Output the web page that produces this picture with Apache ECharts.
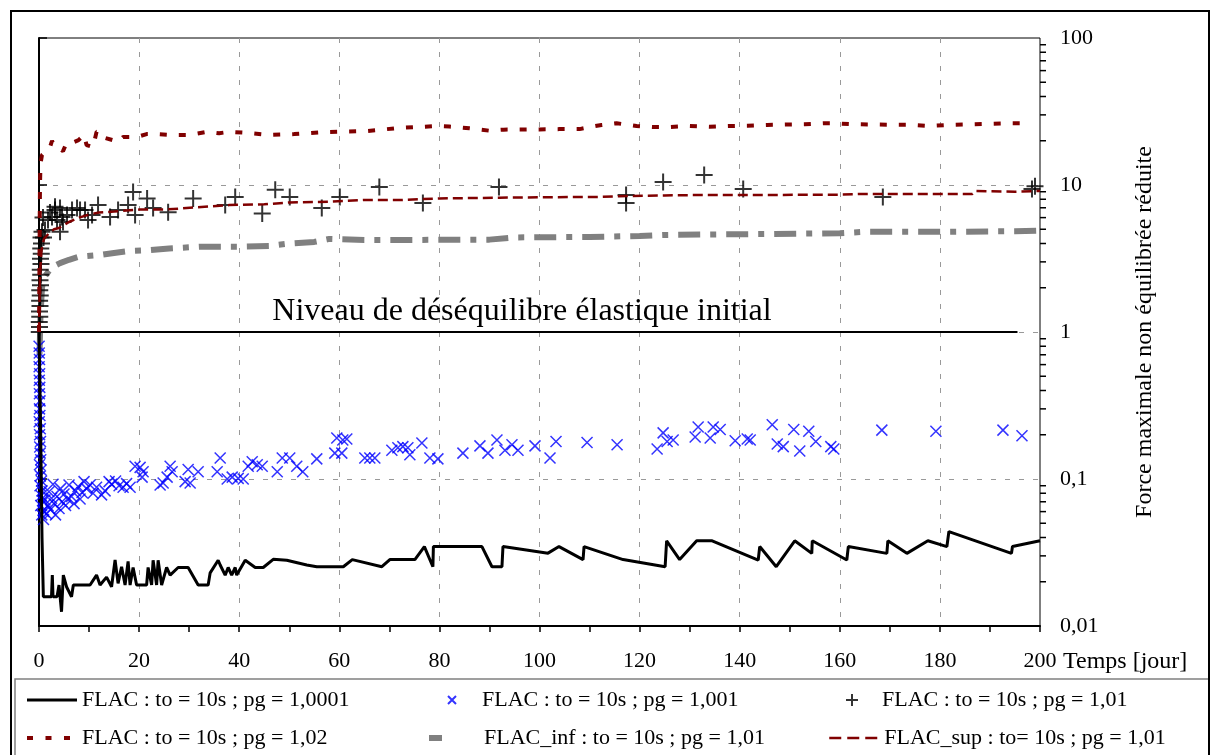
<!DOCTYPE html>
<html><head><meta charset="utf-8">
<script src="https://cdn.jsdelivr.net/npm/echarts@6/dist/echarts.min.js"></script>
<style>html,body{margin:0;padding:0;background:#fff}#c{width:1210px;height:755px}</style>
</head><body><div id="c"></div>
<script>
// ---------- data ----------
const seriesNames = [
  'FLAC : to = 10s ; pg = 1,0001',
  'FLAC : to = 10s ; pg = 1,001',
  'FLAC : to = 10s ; pg = 1,01',
  'FLAC : to = 10s ; pg = 1,02',
  'FLAC_inf : to = 10s ; pg = 1,01',
  'FLAC_sup : to= 10s ; pg = 1,01'
];
const xTickLabels = [0,20,40,60,80,100,120,140,160,180,200];
const yTickLabels = ['0,01','0,1','1','10','100'];
const yMinorTickValues = [0.02,0.03,0.04,0.05,0.06,0.07,0.08,0.09,0.2,0.3,0.4,0.5,0.6,0.7,0.8,0.9,2,3,4,5,6,7,8,9,20,30,40,50,60,70,80,90];
const levelLine = [[-2.2,1],[195.5,1]];
const levelLabel = 'Niveau de déséquilibre élastique initial';

const pg10001 = [[0,1.0],[0.3,0.25],[0.6,0.04],[0.87,0.0158],[2.5,0.0158],[2.66,0.0222],[2.8,0.0158],[3.6,0.0158],[4.0,0.019],[4.5,0.0125],[4.86,0.0222],[5.5,0.0185],[6.5,0.0158],[6.86,0.019],[10.2,0.019],[11.5,0.0222],[12.2,0.019],[13.5,0.0215],[14.5,0.0185],[15.2,0.0281],[15.8,0.0195],[16.5,0.0253],[17.2,0.019],[17.8,0.0275],[18.2,0.019],[18.8,0.025],[19.5,0.019],[21.5,0.019],[21.8,0.025],[22.5,0.019],[22.8,0.028],[23.5,0.019],[23.8,0.028],[24.5,0.019],[25.5,0.025],[26.2,0.0222],[27.8,0.025],[29.8,0.025],[31.8,0.019],[33.8,0.019],[34.2,0.023],[35.8,0.028],[36.2,0.026],[37.2,0.0222],[37.8,0.025],[38.5,0.0222],[39.2,0.025],[39.5,0.0222],[41.2,0.028],[43.2,0.025],[44.8,0.025],[46.8,0.0284],[49.5,0.028],[53.5,0.026],[55.5,0.0253],[60.8,0.0253],[62.6,0.0283],[68.5,0.0253],[70.1,0.0283],[75.1,0.0283],[77.0,0.0347],[78.7,0.0253],[78.8,0.0347],[88.5,0.0347],[90.5,0.0253],[92.5,0.0253],[92.7,0.0347],[101.7,0.0313],[103.9,0.0347],[108.7,0.0283],[108.9,0.0347],[116.7,0.0283],[125.1,0.0253],[125.4,0.038],[128.0,0.0283],[131.4,0.038],[134.5,0.038],[143.7,0.0281],[144.0,0.0347],[147.3,0.0253],[151.0,0.038],[154.4,0.0312],[154.5,0.038],[161.4,0.0281],[161.7,0.0347],[169.4,0.0312],[169.6,0.038],[173.4,0.0312],[177.6,0.038],[181.4,0.0347],[181.8,0.0439],[194.3,0.0312],[194.5,0.0347],[200,0.038]];

const pg1001 = [[0.02,0.8],[0.05,0.72],[0.1,0.65],[0.03,0.58],[0.12,0.52],[0.06,0.47],[0.15,0.42],[0.08,0.38],[0.2,0.34],[0.1,0.3],[0.18,0.27],[0.05,0.245],[0.25,0.22],[0.12,0.2],[0.3,0.18],[0.15,0.165],[0.22,0.15],[0.35,0.135],[0.1,0.125],[0.4,0.115],[0.28,0.105],[0.5,0.097],[0.2,0.09],[0.6,0.083],[0.45,0.077],[0.7,0.071],[0.35,0.066],[0.8,0.061],[0.55,0.057],[0.9,0.053],
[1.0,0.06],[1.2,0.072],[1.5,0.058],[1.8,0.066],[2.0,0.082],[2.3,0.062],[2.5,0.074],[2.8,0.092],[3.0,0.068],[3.3,0.057],[3.6,0.076],[4.0,0.063],[4.3,0.086],[4.6,0.07],[5.0,0.079],[5.3,0.066],[5.7,0.073],[6.0,0.091],[6.5,0.076],[7.0,0.068],[7.3,0.083],[7.8,0.089],[8.2,0.073],[8.6,0.081],[9.0,0.096],[9.5,0.086],[10.2,0.091],[10.8,0.08],[11.5,0.088],[12.5,0.078],[13.2,0.083],[14.0,0.096],[14.5,0.092],[15.3,0.097],[16.0,0.09],[16.8,0.088],[17.5,0.093],
[18.2,0.088],[19.2,0.122],[20.2,0.12],[20.6,0.103],[20.8,0.112],[24.2,0.091],[24.8,0.094],[25.6,0.103],[26.2,0.122],[26.6,0.112],[29.2,0.096],[29.8,0.116],[30.2,0.094],[31.8,0.112],[35.6,0.112],[36.2,0.139],[37.6,0.1],[38.6,0.103],[39.8,0.101],[40.8,0.1],[41.8,0.122],[42.6,0.131],[43.6,0.125],[44.6,0.122],[47.6,0.112],[48.6,0.139],[50.1,0.139],[51.5,0.122],[52.7,0.112],[55.5,0.137],
[59.1,0.15],[59.5,0.19],[60.7,0.184],[60.5,0.15],[61.5,0.187],[65.1,0.139],[66.1,0.139],[67.1,0.139],[70.5,0.157],[71.7,0.163],[72.7,0.166],[73.7,0.163],[74.1,0.146],[76.5,0.176],[78.1,0.139],[79.7,0.137],[84.7,0.15],[88.1,0.168],[89.7,0.15],[91.5,0.184],[93.1,0.157],[94.5,0.171],[95.7,0.157],[99.1,0.168],[102.1,0.139],[103.3,0.18],[109.5,0.177],[115.5,0.171],[123.5,0.16],[124.7,0.206],[125.5,0.18],[126.7,0.184],[131.1,0.193],[131.7,0.226],
[134.1,0.19],[134.7,0.226],[136.1,0.217],[139.1,0.182],[141.5,0.187],[142.1,0.184],[146.5,0.234],[147.5,0.173],[148.7,0.166],[150.8,0.217],[152,0.155],[153.8,0.211],[155.2,0.18],[158.2,0.166],[158.8,0.16],[168.4,0.215],[179.2,0.211],[192.6,0.215],[196.4,0.197]];

const pg101 = [[0.05,1.0],[0.1,1.08],[0.05,1.17],[0.15,1.27],[0.1,1.38],[0.2,1.5],[0.12,1.63],[0.25,1.77],[0.15,1.92],[0.3,2.08],[0.2,2.25],[0.35,2.45],[0.25,2.65],[0.4,2.9],[0.3,3.15],[0.45,3.4],[0.35,3.7],[0.5,4.0],[0.4,4.4],[0.6,4.8],
[0.8,6.0],[0.9,4.4],[1.2,4.94],[1.8,5.78],[2.2,6.5],[2.6,6.06],[3.2,6.76],[3.2,7.1],[3.6,5.78],[4.2,6.98],[4.2,4.8],[4.6,6.06],[4.8,5.6],[5.6,6.25],[6.6,6.76],[7.6,6.98],[8.2,6.76],[9.2,6.76],[9.8,5.78],[10.6,6.25],[11.8,7.31],[14.2,6.06],[15.8,6.76],[17.8,7.31],[19.2,6.25],[18.8,8.96],[21.6,8.1],[22.8,6.98],[25.8,6.53],[30.8,8.1],[37.2,7.31],[39.2,8.28],[44.6,6.4],[47.2,9.3],[50.1,8.28],[56.5,6.98],[60.1,8.28],[68.0,9.7],[76.7,7.55],[91.9,9.7],[117.3,8.55],[117.3,7.55],[124.7,10.5],[132.9,11.7],[140.7,9.4],[168.6,8.3],[198.4,9.4],[199,9.8]];

const pg102 = [[0,1.0],[0.1,3],[0.15,6],[0.2,10],[0.3,14],[0.6,16],[1.5,17],[2.2,18.1],[2.6,20],[3.0,18.5],[3.9,17.8],[4.8,17],[5.5,19.3],[6.5,19.3],[7.9,20.2],[9.0,21.9],[9.5,18.7],[10.8,18.1],[11.5,23],[12.2,23],[13,21],[15.8,19.7],[16.8,21.2],[19.5,21.2],[21.5,22.2],[23.5,22.2],[26.5,21.9],[30,21.9],[33.6,23],[36,22.5],[38,23],[42,22.6],[46,21.9],[51,22.2],[53.5,22.5],[56,22.8],[61.5,23.1],[65.5,23.3],[68,23.7],[71.6,24.4],[75.6,24.8],[79.6,25.2],[82,25],[86,24.3],[90,23.4],[92.8,23.8],[100,23.9],[104,24],[108,24],[110.7,25],[112.4,25.6],[115.4,26.3],[119.4,25.2],[122.7,24.8],[126,24.8],[130,25.2],[134,24.9],[138,25.2],[141.6,25.3],[145.5,25.6],[149.3,25.8],[153,25.9],[157,26.3],[159,26.3],[162.7,25.9],[166.7,25.8],[170.5,25.7],[174,25.7],[178,25.2],[182.6,25.7],[186,25.9],[190,26.1],[194,26.3],[196,26.3],[198,25.8]];

const flacInf = [[0.1,0.7],[0.3,1.3],[0.6,2.0],[1.0,2.35],[1.6,2.5],[2.5,2.75],[4.2,2.94],[6,3.1],[8,3.25],[12.2,3.34],[15,3.45],[18.2,3.56],[22,3.6],[26,3.7],[32,3.8],[40,3.8],[46,3.85],[50,4.0],[55,4.1],[58,4.3],[65,4.23],[75,4.23],[90,4.25],[95,4.4],[110,4.43],[120,4.5],[125,4.57],[132,4.6],[145,4.64],[160,4.7],[165,4.8],[180,4.8],[195,4.85],[200,4.9]];

const flacSup = [[0,1.0],[0.2,2.5],[0.5,3.6],[1,4.3],[2,4.7],[3,5.0],[4,5.1],[6,5.6],[8,6.0],[10,6.3],[12,6.5],[15,6.6],[20,6.8],[25,6.8],[31.5,7.05],[38,7.3],[45,7.4],[50,7.6],[58,7.7],[65,7.9],[72,7.9],[80,8.1],[92,8.2],[100,8.25],[112,8.3],[116,8.4],[125,8.5],[132,8.55],[145,8.55],[160,8.6],[165,8.7],[175,8.7],[186.5,8.7],[187,9.1],[195,9.0],[200,9.1]];

// ---------- chart ----------
const FONT = '"Liberation Serif", "Times New Roman", serif';
const chart = echarts.init(document.getElementById('c'), null, {renderer: 'canvas'});
const lineBase = {type: 'line', showSymbol: false, symbol: 'none', silent: true, animation: false};
const XPATH = 'path://M0,0L10,10M10,0L0,10';
const PPATH = 'path://M5,0L5,10M0,5L10,5';
// legend icons: same glyphs, centred in the 50x14 legend key box
const XLEG = 'path://M0,0M50,14M21,3L29,11M29,3L21,11';
const PLEG = 'path://M0,0M50,14M25,1L25,13M19,7L31,7';
const hideDot = {opacity: 0};

chart.setOption({
  animation: false,
  backgroundColor: '#fff',
  grid: {left: 39, top: 38, width: 1001, height: 588, containLabel: false, outerBoundsMode: 'none',
    show: true, borderColor: '#000', borderWidth: 1, backgroundColor: 'transparent'},
  xAxis: {
    type: 'value', min: 0, max: 200, interval: 20,
    name: 'Temps [jour]', nameLocation: 'end', nameGap: 23,
    nameTextStyle: {fontFamily: FONT, fontSize: 24, color: '#000', verticalAlign: 'top', padding: [24, 0, 0, 0]},
    axisLine: {onZero: false, lineStyle: {color: '#000', width: 2}},
    axisTick: {inside: false, length: 6, lineStyle: {color: '#000', width: 1.5}},
    minorTick: {show: true, splitNumber: 2, length: 6, lineStyle: {color: '#000', width: 1.5}},
    axisLabel: {fontFamily: FONT, fontSize: 22, color: '#000', margin: 24,
      formatter: v => xTickLabels.includes(v) ? String(v) : ''},
    splitLine: {show: true, showMinLine: false, showMaxLine: false, lineStyle: {color: '#999', width: 1, type: [5, 9]}}
  },
  yAxis: {
    type: 'log', logBase: 10, min: 0.01, max: 100, position: 'right',
    name: 'Force maximale non équilibrée réduite', nameLocation: 'middle', nameGap: 93, nameRotate: 90,
    nameTextStyle: {fontFamily: FONT, fontSize: 24, color: '#000'},
    axisLine: {show: true, lineStyle: {color: '#000', width: 2}},
    axisTick: {show: true, inside: false, length: 8, lineStyle: {color: '#000', width: 1.5}},
    axisLabel: {fontFamily: FONT, fontSize: 22, color: '#000', margin: 20,
      formatter: v => { const i = Math.round(Math.log10(v)) + 2; return yTickLabels[i] !== undefined ? yTickLabels[i] : ''; }},
    splitLine: {show: true, showMinLine: false, showMaxLine: false, lineStyle: {color: '#999', width: 1, type: [5, 9]}}
  },
  legend: {
    data: [
      {name: seriesNames[0], itemStyle: hideDot, lineStyle: {color: '#000', width: 3, type: 'solid'}},
      {name: seriesNames[1], icon: XLEG},
      {name: seriesNames[2], icon: PLEG},
      {name: seriesNames[3], itemStyle: hideDot, lineStyle: {color: '#800000', width: 4, type: [6, 12.5]}},
      {name: seriesNames[4], itemStyle: hideDot, lineStyle: {color: '#808080', width: 6, type: [13, 60]}},
      {name: seriesNames[5], itemStyle: hideDot, lineStyle: {color: '#800000', width: 2.5, type: [12, 6]}}
    ],
    left: 15, top: 679, width: 1200, orient: 'horizontal',
    padding: [7, 0, 5, 10], itemGap: 10, itemWidth: 50, itemHeight: 14,
    borderColor: '#808080', borderWidth: 1.5, backgroundColor: '#fff',
    selectedMode: false,
    textStyle: {fontFamily: FONT, fontSize: 22, color: '#000', width: 334, lineHeight: 28}
  },
  graphic: [
    {type: 'text', x: 522, y: 312, silent: true, z: 50,
      style: {text: levelLabel, font: '32px ' + FONT, fill: '#000', align: 'center', verticalAlign: 'middle'}},
    {type: 'rect', silent: true, z: 100, shape: {x: 11, y: 11, width: 1198, height: 760},
      style: {fill: 'none', stroke: '#000', lineWidth: 2}}
  ],
  series: [
    Object.assign({}, lineBase, {name: 'niveau', data: levelLine, clip: false, z: 1,
      lineStyle: {color: '#000', width: 2}}),
    Object.assign({}, lineBase, {name: seriesNames[0], data: pg10001, z: 6,
      lineStyle: {color: '#000', width: 3}, itemStyle: {color: '#000'}}),
    {type: 'scatter', name: seriesNames[1], data: pg1001, silent: true, z: 3,
      symbol: XPATH, symbolSize: 11,
      itemStyle: {color: 'rgba(0,0,0,0)', borderColor: '#0000ff', borderWidth: 1.5}},
    {type: 'scatter', name: seriesNames[2], data: pg101, silent: true, z: 4,
      symbol: PPATH, symbolSize: 17,
      itemStyle: {color: 'rgba(0,0,0,0)', borderColor: '#000', borderWidth: 2}},
    Object.assign({}, lineBase, {name: seriesNames[3], data: pg102, z: 5,
      lineStyle: {color: '#800000', width: 4, type: [7, 12], cap: 'butt'}, itemStyle: {color: '#800000'}}),
    Object.assign({}, lineBase, {name: seriesNames[4], data: flacInf, z: 2,
      lineStyle: {color: '#808080', width: 6, type: [22, 10, 6, 10], cap: 'butt'}, itemStyle: {color: '#808080'}}),
    Object.assign({}, lineBase, {name: seriesNames[5], data: flacSup, z: 5,
      lineStyle: {color: '#800000', width: 2.5, type: [10, 5], cap: 'butt'}, itemStyle: {color: '#800000'}}),
    {type: 'custom', name: 'minorTicks', silent: true, clip: false, z: 10,
      data: yMinorTickValues.map(v => [200, v]),
      encode: {x: 0, y: 1},
      renderItem: (params, api) => {
        const p = api.coord([api.value(0), api.value(1)]);
        return {type: 'line', shape: {x1: p[0], y1: p[1], x2: p[0] + 6, y2: p[1]},
          style: {stroke: '#000', lineWidth: 1.5}};
      }}
  ]
});
</script>
</body></html>
